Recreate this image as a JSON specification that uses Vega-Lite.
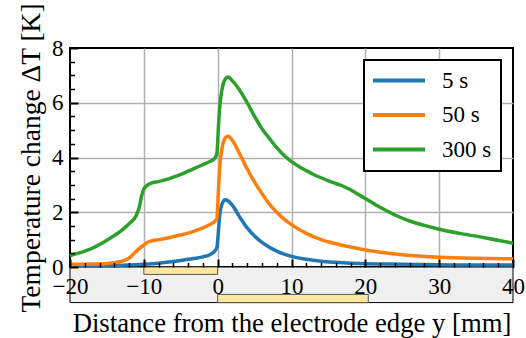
{
  "$schema": "https://vega.github.io/schema/vega-lite/v6.json",
  "width": 443,
  "height": 219,
  "autosize": {"type": "none"},
  "padding": {"left": 70, "top": 48, "right": 13, "bottom": 71},
  "background": "white",
  "config": {
    "view": {"stroke": "black", "strokeWidth": 2},
    "axis": {"titleFont": "Liberation Serif", "labelFont": "Liberation Serif", "labelColor": "black", "titleColor": "black", "titleFontWeight": "normal", "tickColor": "black", "domain": false}
  },
  "datasets": {
    "band": [{"a": -20, "b": 40, "lo": -1.3, "hi": 0}],
    "pads": [{"a": -10, "b": 0, "lo": -0.27, "hi": 0}, {"a": 0, "b": 20.4, "lo": -1.3, "hi": -1.0}],
    "curves": [
      {"pos": -20, "dT": 0.03, "time": "5 s"}, {"pos": -17, "dT": 0.04, "time": "5 s"}, {"pos": -15, "dT": 0.05, "time": "5 s"}, {"pos": -12, "dT": 0.07, "time": "5 s"}, {"pos": -10, "dT": 0.1, "time": "5 s"}, {"pos": -8, "dT": 0.14, "time": "5 s"}, {"pos": -6, "dT": 0.2, "time": "5 s"}, {"pos": -5, "dT": 0.24, "time": "5 s"}, {"pos": -4, "dT": 0.28, "time": "5 s"}, {"pos": -3, "dT": 0.32, "time": "5 s"}, {"pos": -2, "dT": 0.37, "time": "5 s"}, {"pos": -1, "dT": 0.46, "time": "5 s"}, {"pos": -0.4, "dT": 0.58, "time": "5 s"}, {"pos": -0.1, "dT": 0.72, "time": "5 s"}, {"pos": 0.1, "dT": 1.3, "time": "5 s"}, {"pos": 0.3, "dT": 1.95, "time": "5 s"}, {"pos": 0.6, "dT": 2.3, "time": "5 s"}, {"pos": 1.0, "dT": 2.46, "time": "5 s"}, {"pos": 1.4, "dT": 2.42, "time": "5 s"}, {"pos": 2, "dT": 2.25, "time": "5 s"}, {"pos": 3, "dT": 1.82, "time": "5 s"}, {"pos": 4, "dT": 1.43, "time": "5 s"}, {"pos": 5, "dT": 1.13, "time": "5 s"}, {"pos": 6, "dT": 0.9, "time": "5 s"}, {"pos": 7, "dT": 0.72, "time": "5 s"}, {"pos": 8, "dT": 0.58, "time": "5 s"}, {"pos": 9, "dT": 0.47, "time": "5 s"}, {"pos": 10, "dT": 0.39, "time": "5 s"}, {"pos": 12, "dT": 0.28, "time": "5 s"}, {"pos": 14, "dT": 0.21, "time": "5 s"}, {"pos": 16, "dT": 0.17, "time": "5 s"}, {"pos": 18, "dT": 0.14, "time": "5 s"}, {"pos": 20, "dT": 0.12, "time": "5 s"}, {"pos": 25, "dT": 0.1, "time": "5 s"}, {"pos": 30, "dT": 0.08, "time": "5 s"}, {"pos": 35, "dT": 0.07, "time": "5 s"}, {"pos": 40, "dT": 0.07, "time": "5 s"},
      {"pos": -20, "dT": 0.1, "time": "50 s"}, {"pos": -17, "dT": 0.11, "time": "50 s"}, {"pos": -15, "dT": 0.13, "time": "50 s"}, {"pos": -14, "dT": 0.16, "time": "50 s"}, {"pos": -13, "dT": 0.21, "time": "50 s"}, {"pos": -12, "dT": 0.32, "time": "50 s"}, {"pos": -11.5, "dT": 0.45, "time": "50 s"}, {"pos": -11, "dT": 0.58, "time": "50 s"}, {"pos": -10.5, "dT": 0.7, "time": "50 s"}, {"pos": -10, "dT": 0.8, "time": "50 s"}, {"pos": -9.5, "dT": 0.9, "time": "50 s"}, {"pos": -9, "dT": 0.95, "time": "50 s"}, {"pos": -8, "dT": 1.0, "time": "50 s"}, {"pos": -7, "dT": 1.05, "time": "50 s"}, {"pos": -6, "dT": 1.11, "time": "50 s"}, {"pos": -5, "dT": 1.17, "time": "50 s"}, {"pos": -4, "dT": 1.24, "time": "50 s"}, {"pos": -3, "dT": 1.33, "time": "50 s"}, {"pos": -2, "dT": 1.43, "time": "50 s"}, {"pos": -1, "dT": 1.56, "time": "50 s"}, {"pos": -0.4, "dT": 1.67, "time": "50 s"}, {"pos": -0.1, "dT": 1.78, "time": "50 s"}, {"pos": 0.1, "dT": 2.8, "time": "50 s"}, {"pos": 0.3, "dT": 3.7, "time": "50 s"}, {"pos": 0.6, "dT": 4.35, "time": "50 s"}, {"pos": 1.0, "dT": 4.7, "time": "50 s"}, {"pos": 1.4, "dT": 4.78, "time": "50 s"}, {"pos": 2, "dT": 4.62, "time": "50 s"}, {"pos": 3, "dT": 4.12, "time": "50 s"}, {"pos": 4, "dT": 3.58, "time": "50 s"}, {"pos": 5, "dT": 3.1, "time": "50 s"}, {"pos": 6, "dT": 2.68, "time": "50 s"}, {"pos": 7, "dT": 2.3, "time": "50 s"}, {"pos": 8, "dT": 2.0, "time": "50 s"}, {"pos": 9, "dT": 1.75, "time": "50 s"}, {"pos": 10, "dT": 1.55, "time": "50 s"}, {"pos": 12, "dT": 1.23, "time": "50 s"}, {"pos": 14, "dT": 1.0, "time": "50 s"}, {"pos": 16, "dT": 0.85, "time": "50 s"}, {"pos": 18, "dT": 0.73, "time": "50 s"}, {"pos": 20, "dT": 0.62, "time": "50 s"}, {"pos": 22, "dT": 0.54, "time": "50 s"}, {"pos": 25, "dT": 0.45, "time": "50 s"}, {"pos": 30, "dT": 0.36, "time": "50 s"}, {"pos": 35, "dT": 0.32, "time": "50 s"}, {"pos": 40, "dT": 0.3, "time": "50 s"},
      {"pos": -20, "dT": 0.42, "time": "300 s"}, {"pos": -18, "dT": 0.58, "time": "300 s"}, {"pos": -17, "dT": 0.68, "time": "300 s"}, {"pos": -16, "dT": 0.82, "time": "300 s"}, {"pos": -15, "dT": 0.98, "time": "300 s"}, {"pos": -14, "dT": 1.15, "time": "300 s"}, {"pos": -13, "dT": 1.34, "time": "300 s"}, {"pos": -12, "dT": 1.58, "time": "300 s"}, {"pos": -11, "dT": 1.9, "time": "300 s"}, {"pos": -10.6, "dT": 2.2, "time": "300 s"}, {"pos": -10.3, "dT": 2.6, "time": "300 s"}, {"pos": -10, "dT": 2.85, "time": "300 s"}, {"pos": -9.5, "dT": 2.99, "time": "300 s"}, {"pos": -9, "dT": 3.06, "time": "300 s"}, {"pos": -8, "dT": 3.12, "time": "300 s"}, {"pos": -7, "dT": 3.19, "time": "300 s"}, {"pos": -6, "dT": 3.28, "time": "300 s"}, {"pos": -5, "dT": 3.38, "time": "300 s"}, {"pos": -4, "dT": 3.5, "time": "300 s"}, {"pos": -3, "dT": 3.62, "time": "300 s"}, {"pos": -2, "dT": 3.74, "time": "300 s"}, {"pos": -1, "dT": 3.86, "time": "300 s"}, {"pos": -0.4, "dT": 3.97, "time": "300 s"}, {"pos": -0.1, "dT": 4.15, "time": "300 s"}, {"pos": 0.1, "dT": 5.1, "time": "300 s"}, {"pos": 0.3, "dT": 5.9, "time": "300 s"}, {"pos": 0.6, "dT": 6.5, "time": "300 s"}, {"pos": 1.0, "dT": 6.85, "time": "300 s"}, {"pos": 1.4, "dT": 6.94, "time": "300 s"}, {"pos": 2, "dT": 6.8, "time": "300 s"}, {"pos": 3, "dT": 6.45, "time": "300 s"}, {"pos": 4, "dT": 6.0, "time": "300 s"}, {"pos": 5, "dT": 5.5, "time": "300 s"}, {"pos": 6, "dT": 5.05, "time": "300 s"}, {"pos": 7, "dT": 4.7, "time": "300 s"}, {"pos": 8, "dT": 4.36, "time": "300 s"}, {"pos": 9, "dT": 4.07, "time": "300 s"}, {"pos": 10, "dT": 3.85, "time": "300 s"}, {"pos": 11, "dT": 3.67, "time": "300 s"}, {"pos": 12, "dT": 3.52, "time": "300 s"}, {"pos": 13, "dT": 3.38, "time": "300 s"}, {"pos": 14, "dT": 3.26, "time": "300 s"}, {"pos": 15, "dT": 3.15, "time": "300 s"}, {"pos": 16, "dT": 3.05, "time": "300 s"}, {"pos": 17, "dT": 2.95, "time": "300 s"}, {"pos": 18, "dT": 2.82, "time": "300 s"}, {"pos": 19, "dT": 2.66, "time": "300 s"}, {"pos": 20, "dT": 2.5, "time": "300 s"}, {"pos": 22, "dT": 2.18, "time": "300 s"}, {"pos": 24, "dT": 1.9, "time": "300 s"}, {"pos": 26, "dT": 1.68, "time": "300 s"}, {"pos": 28, "dT": 1.52, "time": "300 s"}, {"pos": 30, "dT": 1.38, "time": "300 s"}, {"pos": 33, "dT": 1.22, "time": "300 s"}, {"pos": 36, "dT": 1.08, "time": "300 s"}, {"pos": 40, "dT": 0.87, "time": "300 s"}
    ]
  },
  "layer": [
    {
      "data": {"name": "band"},
      "mark": {"type": "rect", "fill": "#f0f0f0", "stroke": "black", "strokeWidth": 1},
      "encoding": {
        "x": {"field": "a", "type": "quantitative", "scale": {"domain": [-20, 40], "nice": false, "zero": false},
          "axis": {"orient": "top", "values": [-10, 0, 10, 20, 30], "grid": true, "gridColor": "#b0b0b0", "gridWidth": 1.5, "labels": false, "ticks": false, "domain": false, "title": null, "zindex": 0}},
        "x2": {"field": "b"},
        "y": {"field": "lo", "type": "quantitative", "scale": {"domain": [0, 8], "nice": false, "zero": false},
          "axis": {"orient": "left", "values": [2, 4, 6], "grid": true, "gridColor": "#b0b0b0", "gridWidth": 1.5, "labels": false, "ticks": false, "domain": false, "title": null, "zindex": 0}},
        "y2": {"field": "hi"}
      }
    },
    {
      "data": {"name": "pads"},
      "mark": {"type": "rect", "fill": "#fde6a2", "stroke": "#555555", "strokeWidth": 1},
      "encoding": {
        "x": {"field": "a", "type": "quantitative", "scale": {"domain": [-20, 40], "nice": false, "zero": false},
          "axis": {"orient": "bottom", "values": [-18, -16, -14, -12, -8, -6, -4, -2, 2, 4, 6, 8, 12, 14, 16, 18, 22, 24, 26, 28, 32, 34, 36, 38], "tickSize": -4.5, "tickWidth": 1.5, "labels": false, "grid": false, "domain": false, "title": null, "zindex": 1}},
        "x2": {"field": "b"},
        "y": {"field": "lo", "type": "quantitative", "scale": {"domain": [0, 8], "nice": false, "zero": false},
          "axis": {"orient": "left", "values": [0.5, 1, 1.5, 2.5, 3, 3.5, 4.5, 5, 5.5, 6.5, 7, 7.5], "tickSize": -4.5, "tickWidth": 1.5, "labels": false, "grid": false, "domain": false, "title": null, "zindex": 1}},
        "y2": {"field": "hi"}
      }
    },
    {
      "data": {"name": "curves"},
      "mark": {"type": "line", "strokeWidth": 3.5, "interpolate": "monotone"},
      "encoding": {
        "x": {"field": "pos", "type": "quantitative", "scale": {"domain": [-20, 40], "nice": false, "zero": false},
          "axis": {"orient": "bottom", "values": [-20, -10, 0, 10, 20, 30, 40], "tickSize": -8, "tickWidth": 2, "labelFont": "Liberation Serif", "labelFontSize": 23, "labelPadding": 16, "labelFlush": false, "labelOverlap": false, "grid": false, "domain": false, "title": "Distance from the electrode edge y [mm]", "titleFontSize": 26.7, "titlePadding": 12, "zindex": 1}},
        "y": {"field": "dT", "type": "quantitative", "scale": {"domain": [0, 8], "nice": false, "zero": false},
          "axis": {"orient": "left", "values": [0, 2, 4, 6, 8], "tickSize": -8, "tickWidth": 2, "labelFont": "Liberation Serif", "labelFontSize": 23, "labelPadding": 15, "labelOverlap": false, "grid": false, "domain": false, "title": "Temperature change ΔT [K]", "titleFontSize": 27.5, "titlePadding": 6.5, "zindex": 1}},
        "color": {"field": "time", "type": "nominal", "sort": ["5 s", "50 s", "300 s"],
          "scale": {"domain": ["5 s", "50 s", "300 s"], "range": ["#1f77b4", "#ff7f0e", "#2ca02c"]},
          "legend": {"title": null, "orient": "top-right", "offset": 12, "padding": 9, "strokeColor": "black", "fillColor": "white", "cornerRadius": 0,
            "labelFont": "Liberation Serif", "labelFontSize": 23, "labelColor": "black", "labelOffset": 46, "rowPadding": 10.5,
            "symbolType": "M-1.21,0H4.263", "symbolSize": 361, "symbolStrokeWidth": 4,
            "encode": {"legend": {"update": {"strokeWidth": {"value": 2}}}}}}
      }
    }
  ],
  "resolve": {"axis": {"x": "independent", "y": "independent"}}
}
